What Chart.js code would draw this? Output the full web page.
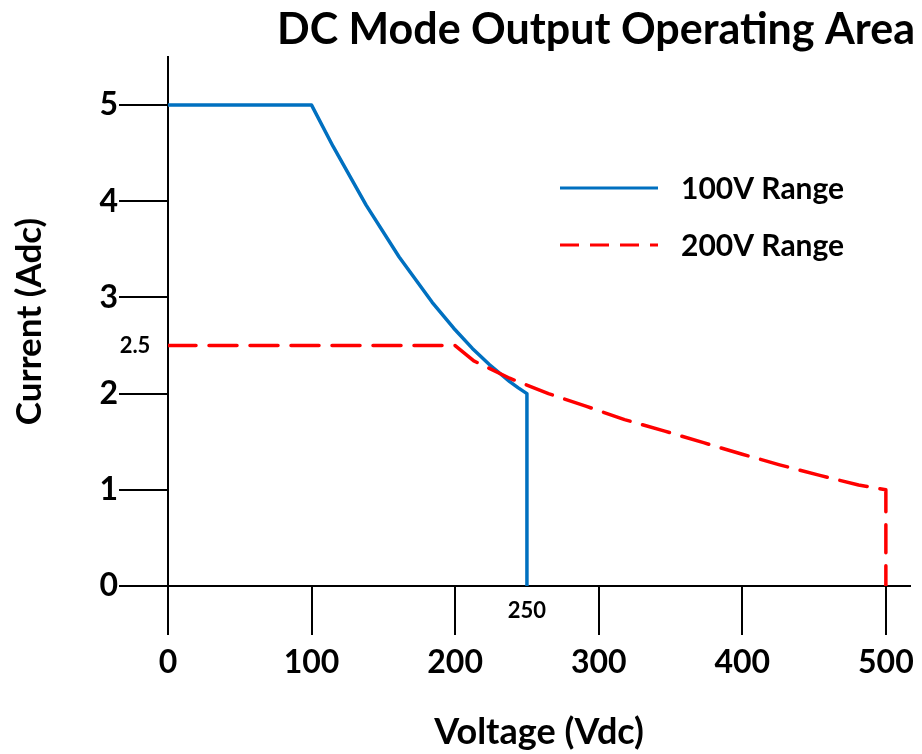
<!DOCTYPE html>
<html>
<head>
<meta charset="utf-8">
<script src="https://cdn.jsdelivr.net/npm/chart.js@4/dist/chart.umd.min.js"></script>
<style>
  html, body { margin: 0; padding: 0; background: #fff; }
  canvas { display: block; }
</style>
</head>
<body>
<canvas id="soaChart" width="922" height="754"></canvas>
<script>
// Operating area data (voltage in Vdc, current in Adc)
const range100V = [0, 100, 115, 138, 161, 184, 199, 212, 224, 238, 244, 250, 250];
const range100I = [5, 5, 4.57, 3.96, 3.42, 2.95, 2.68, 2.47, 2.30, 2.125, 2.06, 2.0, 0];
const range200V = [0, 200, 213, 238, 265, 291, 318, 346, 373, 400, 426, 454, 481, 500, 500];
const range200I = [2.5, 2.5, 2.34, 2.16, 2.0, 1.87, 1.73, 1.61, 1.49, 1.37, 1.26, 1.15, 1.05, 1.0, 0];

const xTicks = [0, 100, 200, 300, 400, 500];
const yTicks = [0, 1, 2, 3, 4, 5];
const seriesNames = ['100V Range', '200V Range'];
const markLabels = { current: '2.5', voltage: '250' };

const FONT = 'Lato';
const BLUE = '#0070C0';
const RED = '#FF0000';

const toPoints = (xs, ys) => xs.map((x, i) => ({ x: x, y: ys[i] }));

// title, inline legend and the two small value labels
const extrasPlugin = {
  id: 'extras',
  afterDraw(chart) {
    const ctx = chart.ctx;
    const xs = chart.scales.x;
    const ys = chart.scales.y;
    ctx.save();
    ctx.fillStyle = '#000';

    ctx.font = 'bold 43px ' + FONT;
    ctx.textAlign = 'center';
    ctx.textBaseline = 'middle';
    ctx.fillText('DC Mode Output Operating Area', 596, 30);

    // legend
    const rows = [188, 245];
    chart.data.datasets.forEach((ds, i) => {
      ctx.beginPath();
      ctx.strokeStyle = ds.borderColor;
      ctx.lineWidth = 3;
      ctx.setLineDash(i === 1 ? [19, 11] : []);
      ctx.moveTo(560, rows[i]);
      ctx.lineTo(658, rows[i]);
      ctx.stroke();
      ctx.setLineDash([]);
      ctx.font = 'bold 30px ' + FONT;
      ctx.textAlign = 'left';
      ctx.fillText(ds.label, 681, rows[i] + 1);
    });

    ctx.font = 'bold 22px ' + FONT;
    ctx.textAlign = 'center';
    ctx.fillText(markLabels.current, 135, ys.getPixelForValue(2.5));
    ctx.fillText(markLabels.voltage, xs.getPixelForValue(250), 611);
    ctx.restore();
  }
};

new Chart(document.getElementById('soaChart'), {
  type: 'line',
  data: {
    datasets: [
      {
        label: seriesNames[0],
        data: toPoints(range100V, range100I),
        borderColor: BLUE,
        borderWidth: 3.5,
        borderJoinStyle: 'round',
        pointRadius: 0,
        tension: 0,
        order: 1
      },
      {
        label: seriesNames[1],
        data: toPoints(range200V, range200I),
        borderColor: RED,
        borderWidth: 3.5,
        borderDash: [28, 13],
        borderCapStyle: 'round',
        borderJoinStyle: 'round',
        pointRadius: 0,
        tension: 0,
        order: 0
      }
    ]
  },
  options: {
    responsive: false,
    animation: false,
    devicePixelRatio: 1,
    layout: { padding: { top: 57, right: 9, left: 0, bottom: 0 } },
    plugins: {
      legend: { display: false },
      title: { display: false },
      tooltip: { enabled: false }
    },
    scales: {
      x: {
        type: 'linear',
        min: 0,
        max: 517,
        afterBuildTicks: axis => { axis.ticks = xTicks.map(v => ({ value: v })); },
        afterFit: axis => { axis.height = 168; },
        ticks: {
          color: '#000',
          padding: 8,
          font: { family: FONT, size: 32, weight: 'bold' }
        },
        grid: {
          drawOnChartArea: false,
          tickLength: 49,
          color: '#000',
          lineWidth: 2
        },
        border: { color: '#000', width: 2 },
        title: {
          display: true,
          text: 'Voltage (Vdc)',
          color: '#000',
          padding: { top: 0, bottom: 0 },
          font: { family: FONT, size: 36, weight: 'bold' }
        }
      },
      y: {
        min: 0,
        max: 5.5,
        afterBuildTicks: axis => { axis.ticks = yTicks.map(v => ({ value: v })); },
        afterFit: axis => { axis.width = 168; },
        ticks: {
          color: '#000',
          padding: 1,
          font: { family: FONT, size: 32, weight: 'bold' }
        },
        grid: {
          drawOnChartArea: false,
          tickLength: 49,
          color: '#000',
          lineWidth: 2
        },
        border: { color: '#000', width: 2 },
        title: {
          display: true,
          text: 'Current (Adc)',
          color: '#000',
          padding: { top: 9, bottom: 0 },
          font: { family: FONT, size: 35, weight: 'bold' }
        }
      }
    }
  },
  plugins: [extrasPlugin]
});
</script>
</body>
</html>
